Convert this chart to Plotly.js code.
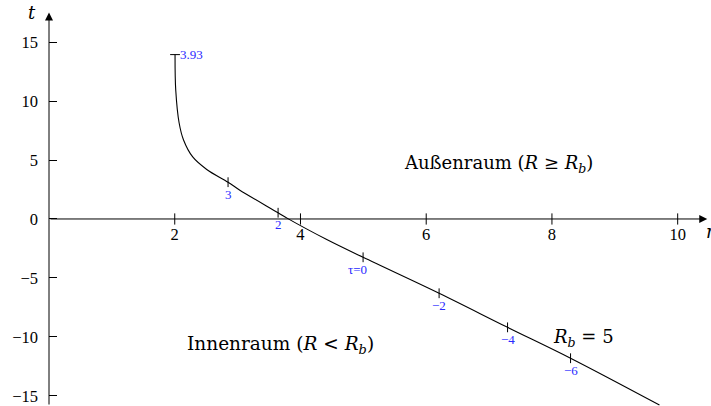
<!DOCTYPE html>
<html>
<head>
<meta charset="utf-8">
<script src="https://cdn.plot.ly/plotly-3.0.1.min.js"></script>
<style>
  html, body { margin: 0; padding: 0; background: #fff; }
  #chart { width: 711px; height: 406px; }
</style>
</head>
<body>
<div id="chart"></div>
<script>
// Surface of the collapsing ball (R_b = 5) in Schwarzschild coordinates (r, t)
const surfaceR = [2.005, 2.016, 2.07, 2.14, 2.286, 2.509, 2.848, 3.03, 3.644, 3.80, 4.41, 4.996, 6.205, 7.294, 8.296, 9.71];
const surfaceT = [13.94, 10.94, 8.14, 6.70, 5.26, 4.20, 3.12, 2.46, 0.53, 0.03, -1.72, -3.25, -6.30, -9.19, -11.81, -15.78];

// Proper-time marks along the surface
const tauLabels = ["3.93", "3", "2", "τ=0", "−2", "−4", "−6"];
const tauR = [2.005, 2.848, 3.644, 4.996, 6.205, 7.294, 8.296];
const tauT = [13.94, 3.12, 0.53, -3.25, -6.30, -9.19, -11.81];

// Axis ticks
const xTicks = [2, 4, 6, 8, 10];
const yTicks = [-15, -10, -5, 0, 5, 10, 15];

const xRange = [0, 10.53];
const yRange = [-15.86, 18.57];
const xArrowTip = 10.47;
const yArrowTip = 17.5;

const serif = "Times";
const mathSerif = "DejaVu Serif";
const blue = "#2a2aff";

const traces = [
  {
    x: surfaceR, y: surfaceT, type: "scatter", mode: "lines",
    line: { color: "#000", width: 1.1, shape: "spline", smoothing: 1 },
    hoverinfo: "skip", showlegend: false
  },
  {
    // crossing tick marks on the r axis
    x: xTicks, y: xTicks.map(() => 0), type: "scatter", mode: "markers",
    marker: { symbol: "line-ns", size: 8, line: { color: "#000", width: 1 } },
    hoverinfo: "skip", showlegend: false
  },
  {
    // tau marks: the first sits where the curve is vertical
    x: tauR, y: tauT, type: "scatter", mode: "markers",
    marker: {
      symbol: tauLabels.map((s, i) => i === 0 ? "line-ew" : "line-ns"),
      size: 7, line: { color: "#000", width: 1 }
    },
    hoverinfo: "skip", showlegend: false
  }
];

const annotations = [];
// axis lines with arrow heads
annotations.push({
  x: xArrowTip, y: 0, ax: 0, ay: 0, xref: "x", yref: "y", axref: "x", ayref: "y",
  text: "", showarrow: true, arrowhead: 2, arrowsize: 1.6, arrowwidth: 1, arrowcolor: "#000"
});
annotations.push({
  x: 0, y: yArrowTip, ax: 0, ay: yRange[0], xref: "x", yref: "y", axref: "x", ayref: "y",
  text: "", showarrow: true, arrowhead: 2, arrowsize: 1.6, arrowwidth: 1, arrowcolor: "#000"
});
// axis names
annotations.push({
  x: 0, y: yArrowTip, xref: "x", yref: "y", xshift: -17, yshift: 0,
  text: "<i>t</i>", showarrow: false, font: { family: mathSerif, size: 18, color: "#000" }
});
annotations.push({
  x: xArrowTip, y: 0, xref: "x", yref: "y", xanchor: "left", xshift: -3, yshift: -13,
  text: "<i>r</i>", showarrow: false, font: { family: mathSerif, size: 18, color: "#000" }
});
// tau labels
tauLabels.forEach((lab, i) => {
  const first = i === 0;
  annotations.push({
    x: tauR[i], y: tauT[i], xref: "x", yref: "y",
    text: lab, showarrow: false,
    xanchor: first ? "left" : "center",
    xshift: first ? 3 : (lab.startsWith("τ") ? -6 : 0),
    yshift: first ? 0 : -12,
    font: { family: serif, size: 13, color: blue }
  });
});
// region labels
annotations.push({
  x: 0.679, y: 0.596, xref: "paper", yref: "paper", xanchor: "center", yanchor: "middle",
  text: "Außenraum (<i>R</i> ≥ <i>R<sub>b</sub></i>)", showarrow: false,
  font: { family: mathSerif, size: 18, color: "#000" }
});
annotations.push({
  x: 0.350, y: 0.150, xref: "paper", yref: "paper", xanchor: "center", yanchor: "middle",
  text: "Innenraum (<i>R</i> &lt; <i>R<sub>b</sub></i>)", showarrow: false,
  font: { family: mathSerif, size: 18.5, color: "#000" }
});
annotations.push({
  x: 0.808, y: 0.167, xref: "paper", yref: "paper", xanchor: "center", yanchor: "middle",
  text: "<i>R<sub>b</sub></i> = 5", showarrow: false,
  font: { family: mathSerif, size: 18, color: "#000" }
});

const layout = {
  width: 711, height: 406,
  margin: { l: 49, r: 0, t: 0, b: 0 },
  paper_bgcolor: "#fff", plot_bgcolor: "#fff",
  font: { family: serif, size: 16, color: "#000" },
  showlegend: false,
  xaxis: {
    range: xRange, anchor: "free",
    position: (0 - yRange[0]) / (yRange[1] - yRange[0]),
    tickvals: xTicks, ticks: "", showgrid: false, zeroline: false, showline: false,
    ticklabelstandoff: 4,
    tickfont: { family: serif, size: 16.5, color: "#000" }, fixedrange: true
  },
  yaxis: {
    range: yRange, tickvals: yTicks, ticks: "inside", ticklen: 8, tickwidth: 1, tickcolor: "#000",
    showgrid: false, zeroline: false, showline: false,
    ticklabelstandoff: 10,
    tickfont: { family: serif, size: 16.5, color: "#000" }, fixedrange: true
  },
  annotations: annotations
};

Plotly.newPlot("chart", traces, layout, { staticPlot: true, displayModeBar: false });
</script>
</body>
</html>
